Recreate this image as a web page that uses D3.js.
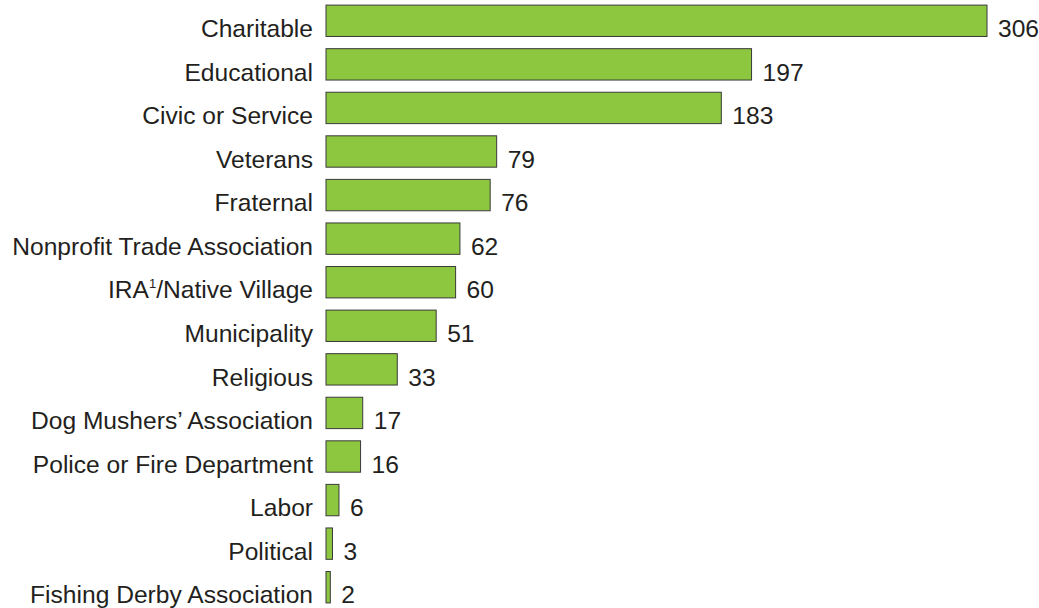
<!DOCTYPE html>
<html>
<head>
<meta charset="utf-8">
<script src="https://cdn.jsdelivr.net/npm/d3@7"></script>
<style>
  body { margin: 0; background: #fff; }
  text { font-family: "Liberation Sans", Arial, sans-serif; fill: #231f20; }
</style>
</head>
<body>
<div class="chart"></div>
<script>
const categories = ['Charitable', 'Educational', 'Civic or Service', 'Veterans', 'Fraternal',
    'Nonprofit Trade Association', 'IRA1/Native Village', 'Municipality', 'Religious',
    'Dog Mushers\u2019 Association', 'Police or Fire Department', 'Labor', 'Political',
    'Fishing Derby Association'];
const counts = [306, 197, 183, 79, 76, 62, 60, 51, 33, 17, 16, 6, 3, 2];

const width = 1039;
const height = 608;
const svg = d3.select('.chart').append('svg').attr('width', width).attr('height', height);

const x = d3.scaleLinear().domain([0, 306]).range([326, 987]);
const y = d3.scaleBand().domain(categories).range([-1, 609]).paddingInner(0.28).paddingOuter(0.14);

const rows = svg.selectAll('g.row').data(categories).enter().append('g').attr('class', 'row');

rows.append('rect')
    .attr('x', x(0))
    .attr('y', d => y(d))
    .attr('width', (d, i) => x(counts[i]) - x(0))
    .attr('height', y.bandwidth())
    .attr('fill', '#8dc63f')
    .attr('stroke', '#3a3a3a')
    .attr('stroke-width', 1);

// category labels
const labels = rows.append('text')
    .attr('x', x(0) - 13)
    .attr('y', d => y(d) + y.bandwidth() + 0.5)
    .attr('text-anchor', 'end')
    .attr('font-size', '24.6px');

labels.each(function (d) {
    const t = d3.select(this);
    if (d.startsWith('IRA1')) {
        t.append('tspan').text('IRA');
        t.append('tspan').attr('font-size', '13px').attr('dy', -10).text('1');
        t.append('tspan').attr('dy', 10).text('/Native Village');
    } else {
        t.text(d);
    }
});

// value labels
rows.append('text')
    .attr('x', (d, i) => x(counts[i]) + 11)
    .attr('y', d => y(d) + y.bandwidth() + 0.5)
    .attr('font-size', '24.6px')
    .text((d, i) => counts[i]);
</script>
</body>
</html>
